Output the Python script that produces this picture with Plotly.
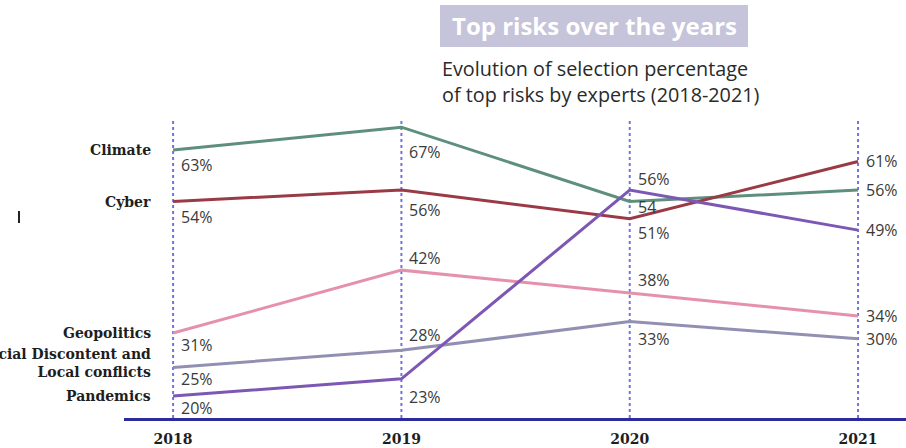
import plotly.graph_objects as go

years = [2018, 2019, 2020, 2021]
risk_names = ["Climate", "Cyber", "Geopolitics", "Social Discontent and<br>Local conflicts", "Pandemics"]
climate = [63, 67, 54, 56]
cyber = [54, 56, 51, 61]
geopolitics = [31, 42, 38, 34]
social = [25, 28, 33, 30]
pandemics = [20, 23, 56, 49]
series_values = [climate, cyber, geopolitics, social, pandemics]
value_labels = [
    ["63%", "67%", "54", "56%"],
    ["54%", "56%", "51%", "61%"],
    ["31%", "42%", "38%", "34%"],
    ["25%", "28%", "33%", "30%"],
    ["20%", "23%", "56%", "49%"],
]

# styling (not data)
colors = ["#5e8f7c", "#9a3a46", "#e591ac", "#9290b2", "#7d57b4"]
label_yshift = [
    [-15, -25, -5, 0],
    [-15, -20, -14, 0],
    [-12, 12, 13, 0],
    [-12, 15, -17, 0],
    [-12, -18, 11, 0],
]
name_yshift = [0, 0, 0, 4, 0]

fig = go.Figure()
for name, vals, col in zip(risk_names, series_values, colors):
    fig.add_trace(go.Scatter(x=years, y=vals, mode="lines",
                             line=dict(color=col, width=3), name=name,
                             hoverinfo="skip", showlegend=False))

annotations = []
for i, (vals, labs) in enumerate(zip(series_values, value_labels)):
    for j, (yr, v, lab) in enumerate(zip(years, vals, labs)):
        annotations.append(dict(x=yr, y=v, text=lab, showarrow=False,
                                xanchor="left", yanchor="middle",
                                xshift=6, yshift=label_yshift[i][j],
                                font=dict(family="Open Sans", size=16, color="#3a3a3a")))
    annotations.append(dict(x=years[0], y=vals[0], text="<b>" + risk_names[i] + "</b>",
                            showarrow=False, xanchor="right", yanchor="middle", align="right",
                            xshift=-20, yshift=name_yshift[i],
                            font=dict(family="DejaVu Serif", size=14, color="#1e1e1e")))

shapes = []
for yr in years:
    shapes.append(dict(type="line", xref="x", yref="paper", x0=yr, x1=yr, y0=0, y1=1,
                       line=dict(color="#7373e0", width=2, dash="dot"), layer="below"))
# title box
shapes.append(dict(type="rect", xref="paper", yref="paper",
                   x0=(440 - 124) / 782, x1=(748 - 124) / 782,
                   y0=(448 - 30 - 47) / 298, y1=(448 - 30 - 5) / 298,
                   fillcolor="#c6c4da", line=dict(width=0)))
shapes.append(dict(type="line", xref="paper", yref="paper",
                   x0=(19 - 124) / 782, x1=(19 - 124) / 782,
                   y0=(448 - 30 - 223) / 298, y1=(448 - 30 - 211) / 298,
                   line=dict(color="#222222", width=2)))

annotations.append(dict(xref="paper", yref="paper", x=(594 - 124) / 782, y=(448 - 30 - 26) / 298,
                        text="<b>Top risks over the years</b>", showarrow=False,
                        xanchor="center", yanchor="middle",
                        font=dict(family="Open Sans", size=24, color="#ffffff")))
annotations.append(dict(xref="paper", yref="paper", x=(440 - 124) / 782, y=(448 - 30 - 81) / 298,
                        text="Evolution of selection percentage<br>of top risks by experts (2018-2021)",
                        showarrow=False, xanchor="left", yanchor="middle", align="left",
                        font=dict(family="Open Sans", size=19.8, color="#2a2a2a")))

fig.update_layout(
    width=906, height=448,
    margin=dict(l=124, r=0, t=120, b=30),
    paper_bgcolor="white", plot_bgcolor="white",
    xaxis=dict(range=[2017.785, 2021.21], tickvals=years, ticktext=[str(y) for y in years],
               showgrid=False, zeroline=False, showline=True, linecolor="#2b2b9b", linewidth=3,
               ticks="outside", ticklen=6, tickcolor="rgba(0,0,0,0)",
               tickfont=dict(family="DejaVu Serif", size=14, color="#1e1e1e", weight="bold"),
               fixedrange=True),
    yaxis=dict(range=[16.15, 68.25], visible=False, fixedrange=True),
    shapes=shapes, annotations=annotations,
)

fig.write_html("out.html")
